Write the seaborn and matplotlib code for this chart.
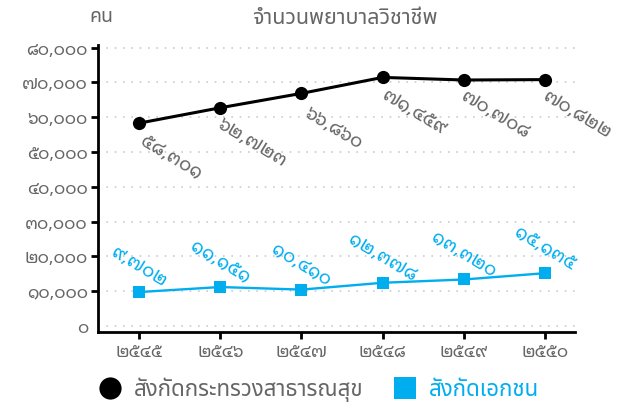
import matplotlib
matplotlib.use("Agg")
import matplotlib.pyplot as plt
from matplotlib.lines import Line2D
import seaborn as sns
import pandas as pd

years = [2545, 2546, 2547, 2548, 2549, 2550]
public_values = [58301, 62723, 66860, 71459, 70708, 70822]
private_values = [9702, 11151, 10410, 12378, 13320, 15135]
y_ticks = [0, 10000, 20000, 30000, 40000, 50000, 60000, 70000, 80000]
title = "จำนวนพยาบาลวิชาชีพ"
unit_label = "คน"
series_names = ["สังกัดกระทรวงสาธารณสุข", "สังกัดเอกชน"]

BLACK = "#000000"
BLUE = "#00AEEF"
GRAY = "#666666"
THAI = str.maketrans("0123456789", "๐๑๒๓๔๕๖๗๘๙")
LOOPED = ["Noto Sans Thai Looped", "Noto Sans Thai", "DejaVu Sans"]


def th(n, comma=True):
    s = f"{n:,}" if comma else str(n)
    return s.translate(THAI)


sns.set_theme(style="white")
plt.rcParams["font.family"] = ["Noto Sans Thai", "DejaVu Sans"]

df = pd.DataFrame({
    "year": years * 2,
    "value": public_values + private_values,
    "series": [series_names[0]] * len(years) + [series_names[1]] * len(years),
})

fig = plt.figure(figsize=(6.18, 4.03), dpi=100)
ax = fig.add_axes([97.7 / 618, 1 - 331.7 / 403, 477.3 / 618, 286.7 / 403])

sns.lineplot(data=df[df.series == series_names[0]], x="year", y="value", ax=ax,
             color=BLACK, linewidth=2.2, marker="o", markersize=9.5,
             markeredgewidth=0, legend=False)
sns.lineplot(data=df[df.series == series_names[1]], x="year", y="value", ax=ax,
             color=BLUE, linewidth=1.7, marker="s", markersize=8.5,
             markeredgewidth=0, legend=False)

ax.set_xlim(2544.49, 2550.37)
ax.set_ylim(-1700, 80780)
ax.set_xticks(years)
ax.set_xticklabels([th(y, comma=False) for y in years], family=LOOPED)
ax.set_yticks(y_ticks)
ax.set_yticklabels([th(v) for v in y_ticks], family=LOOPED)
ax.set_xlabel("")
ax.set_ylabel("")

for side in ["top", "right"]:
    ax.spines[side].set_visible(False)
for side in ["left", "bottom"]:
    ax.spines[side].set_color(BLACK)
    ax.spines[side].set_linewidth(2)

ax.tick_params(axis="both", which="major", direction="out", length=5, width=2,
               color=BLACK, labelcolor=GRAY, labelsize=12.5, pad=2, left=True, bottom=True)
ax.tick_params(axis="x", pad=3)
ax.yaxis.get_major_ticks()[0].tick1line.set_visible(False)
ax.yaxis.grid(True, linestyle=(0, (1, 4)), color="#cccccc", linewidth=1.2)
ax.xaxis.grid(False)

for x, v in zip(years, public_values):
    ax.annotate(th(v), (x, v), xytext=(23, -25), textcoords="offset points",
                ha="center", va="center", rotation=-31, rotation_mode="anchor",
                color=GRAY, fontsize=13.5, family=LOOPED)
for x, v in zip(years, private_values):
    ax.annotate(th(v), (x, v), xytext=(0, 18), textcoords="offset points",
                ha="center", va="center", rotation=-31, rotation_mode="anchor",
                color=BLUE, fontsize=13.5, family=LOOPED)

fig.text(345 / 618, 1 - 18 / 403, title, ha="center", va="center", color=GRAY, fontsize=15.5)
fig.text(101 / 618, 1 - 17 / 403, unit_label, ha="center", va="center", color=GRAY, fontsize=14)

handles = [
    Line2D([], [], linestyle="none", marker="o", markersize=16, color=BLACK, markeredgewidth=0),
    Line2D([], [], linestyle="none", marker="s", markersize=16, color=BLUE, markeredgewidth=0),
]
leg = fig.legend(handles, series_names, loc="center", bbox_to_anchor=(318 / 618, 1 - 390 / 403),
                 ncol=2, frameon=False, fontsize=16, handletextpad=0.45, columnspacing=1.3,
                 handlelength=1.2)
leg.get_texts()[0].set_color(GRAY)
leg.get_texts()[1].set_color(BLUE)

fig.savefig("out.png", dpi=100)
